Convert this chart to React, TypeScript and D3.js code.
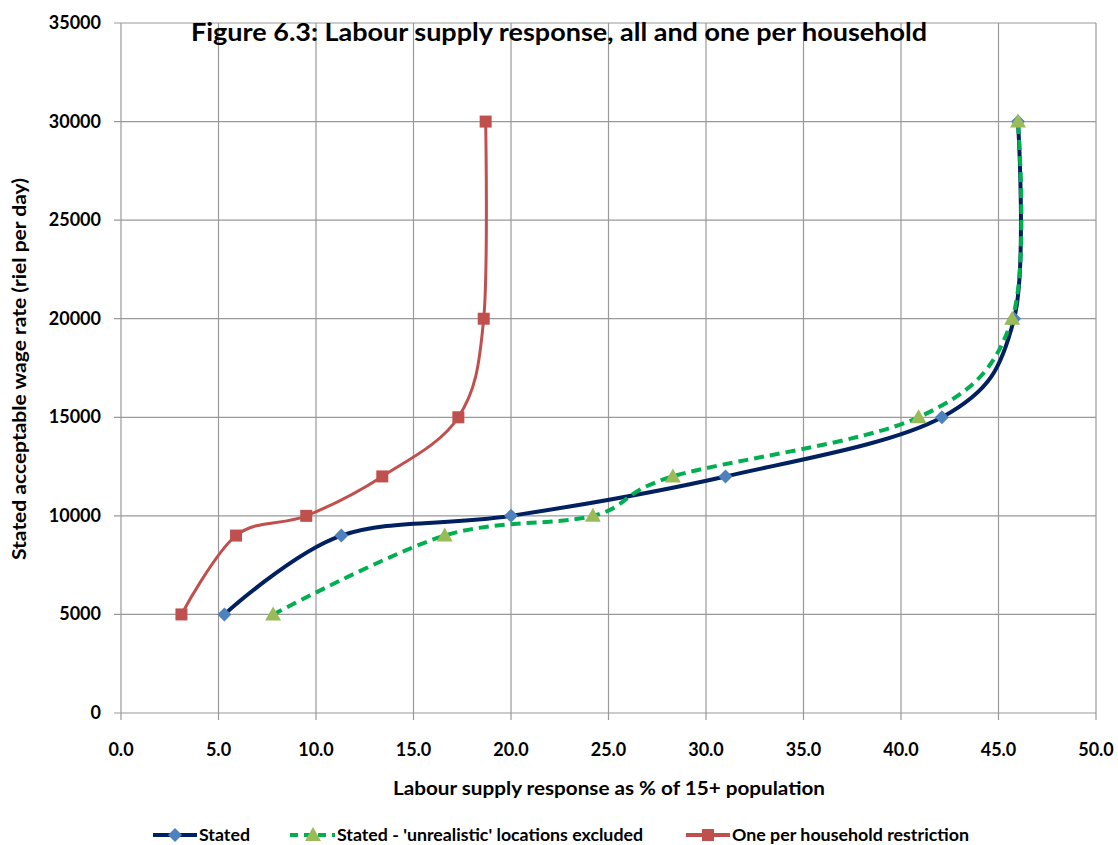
import React from "react";
import * as d3 from "d3";

const statedX = [5.3, 11.3, 20.0, 31.0, 42.1, 45.8, 46.0];
const statedY = [5000, 9000, 10000, 12000, 15000, 20000, 30000];
const exclX = [7.8, 16.6, 24.2, 28.3, 40.9, 45.7, 46.0];
const exclY = [5000, 9000, 10000, 12000, 15000, 20000, 30000];
const oneX = [3.1, 5.9, 9.5, 13.4, 17.3, 18.6, 18.7];
const oneY = [5000, 9000, 10000, 12000, 15000, 20000, 30000];
const xTicks = [0, 5, 10, 15, 20, 25, 30, 35, 40, 45, 50];
const yTicks = [0, 5000, 10000, 15000, 20000, 25000, 30000, 35000];

const W = 1118, H = 845;
const FONT = "Lato, 'Open Sans', sans-serif";

export default function App() {
  const x = d3.scaleLinear().domain([0, 50]).range([121, 1096]);
  const y = d3.scaleLinear().domain([0, 35000]).range([713, 23]);
  const line = d3.line<[number, number]>().x(d => x(d[0])).y(d => y(d[1])).curve(d3.curveCatmullRom.alpha(0));
  const zip = (a: number[], b: number[]) => a.map((v, i) => [v, b[i]] as [number, number]);
  const stated = zip(statedX, statedY);
  const excl = zip(exclX, exclY);
  const one = zip(oneX, oneY);

  const diamond = (cx: number, cy: number, k: string) => (
    <path key={k} d={`M${cx},${cy - 7}L${cx + 7},${cy}L${cx},${cy + 7}L${cx - 7},${cy}Z`} fill="#4f81bd" />
  );
  const tri = (cx: number, cy: number, k: string) => (
    <path key={k} d={`M${cx},${cy - 8}L${cx + 8},${cy + 6}L${cx - 8},${cy + 6}Z`} fill="#9bbb59" />
  );
  const sq = (cx: number, cy: number, k: string) => (
    <rect key={k} x={cx - 6} y={cy - 6} width={12} height={12} fill="#c0504d" />
  );

  return (
    <svg width={W} height={H} style={{ position: "absolute", left: 0, top: 0, background: "#fff" }} fontFamily={FONT}>
      <rect width={W} height={H} fill="#fff" />
      {xTicks.map(t => (
        <line key={"gx" + t} x1={x(t)} x2={x(t)} y1={y(35000)} y2={y(0) + 7} stroke="#999" strokeWidth={1.2} />
      ))}
      {yTicks.map(t => (
        <line key={"gy" + t} x1={x(0) - 7} x2={x(50)} y1={y(t)} y2={y(t)} stroke="#999" strokeWidth={1.2} />
      ))}
      {xTicks.map(t => (
        <text key={"tx" + t} x={x(t)} y={756} textAnchor="middle" fontSize={18} fontWeight="bold" fill="#000">{t.toFixed(1)}</text>
      ))}
      {yTicks.map(t => (
        <text key={"ty" + t} x={101} y={y(t) + 6} textAnchor="end" fontSize={18} fontWeight="bold" fill="#000">{t}</text>
      ))}
      <text x={393} y={795} fontSize={19} fontWeight="bold" textLength={432} lengthAdjust="spacingAndGlyphs">Labour supply response as % of 15+ population</text>
      <text transform={`translate(26,560) rotate(-90)`} fontSize={19} fontWeight="bold" textLength={382} lengthAdjust="spacingAndGlyphs">Stated acceptable wage rate (riel per day)</text>
      <text x={191} y={41} fontSize={24} fontWeight="bold" textLength={736} lengthAdjust="spacingAndGlyphs">Figure 6.3: Labour supply response, all and one per household</text>

      <path d={line(one) || ""} fill="none" stroke="#c0504d" strokeWidth={3} />
      <path d={line(stated) || ""} fill="none" stroke="#002060" strokeWidth={4} />
      <path d={line(excl) || ""} fill="none" stroke="#00b050" strokeWidth={4} strokeDasharray="10,6" />
      {one.map((d, i) => sq(x(d[0]), y(d[1]), "s" + i))}
      {stated.map((d, i) => diamond(x(d[0]), y(d[1]), "d" + i))}
      {excl.map((d, i) => tri(x(d[0]), y(d[1]), "t" + i))}

      <g>
        <line x1={153} x2={197} y1={835} y2={835} stroke="#002060" strokeWidth={4} />
        {diamond(175, 835, "ld")}
        <text x={199} y={841} fontSize={17} fontWeight="bold" textLength={51} lengthAdjust="spacingAndGlyphs">Stated</text>
        <line x1={290} x2={335} y1={835} y2={835} stroke="#00b050" strokeWidth={4} strokeDasharray="8,6" />
        {tri(313, 835, "lt")}
        <text x={337} y={841} fontSize={17} fontWeight="bold" textLength={306} lengthAdjust="spacingAndGlyphs">Stated - 'unrealistic' locations excluded</text>
        <line x1={686} x2={730} y1={835} y2={835} stroke="#c0504d" strokeWidth={4} />
        {sq(708, 835, "ls")}
        <text x={732} y={841} fontSize={17} fontWeight="bold" textLength={237} lengthAdjust="spacingAndGlyphs">One per household restriction</text>
      </g>
    </svg>
  );
}
